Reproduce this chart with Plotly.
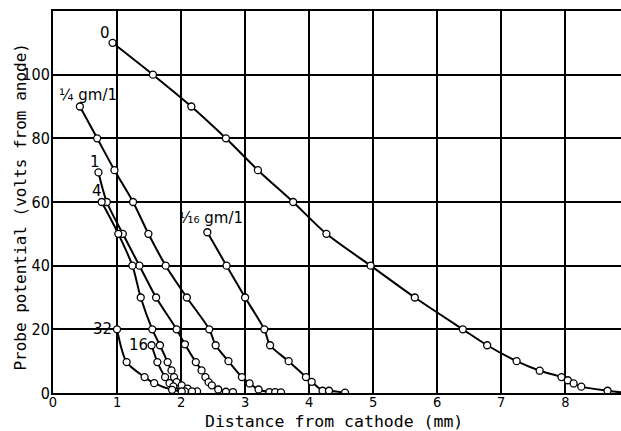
import plotly.graph_objects as go

# ---- data (distance from cathode in mm, probe potential in volts from anode) ----
c0_x = [0.93, 1.56, 2.16, 2.70, 3.20, 3.75, 4.27, 4.96, 5.65, 6.40, 6.78, 7.24, 7.60, 7.94, 8.04, 8.13, 8.25, 8.66]
c0_y = [110, 100, 90, 80, 70, 60, 50, 40, 30, 20, 15, 10, 7, 5, 4, 3, 2, 0.7]
c0_tail_x = [8.87]
c0_tail_y = [0.2]

cq_x = [0.42, 0.69, 0.96, 1.25, 1.49, 1.76, 2.09, 2.44, 2.54, 2.74, 2.95, 3.07, 3.21, 3.38, 3.47, 3.56]
cq_y = [90, 80, 70, 60, 50, 40, 30, 20, 15, 10, 5, 3, 1.1, 0.3, 0.3, 0.2]

c16th_x = [2.41, 2.71, 3.00, 3.30, 3.39, 3.68, 3.95, 4.04, 4.21, 4.31, 4.56]
c16th_y = [50.5, 40, 30, 20, 15, 10, 5, 3.5, 0.7, 0.7, 0.1]

c1_x = [0.71, 0.84, 1.09, 1.35, 1.61, 1.93, 2.06, 2.23, 2.32, 2.38, 2.43, 2.48, 2.58, 2.70, 2.81]
c1_y = [69.3, 60, 50, 40, 30, 20, 15.3, 9.7, 7.1, 5, 3.4, 2.4, 1.1, 0.4, 0.3]

c4_x = [0.76, 1.02, 1.24, 1.37, 1.55, 1.67, 1.79, 1.85, 1.89, 1.93, 2.01, 2.10, 2.25]
c4_y = [60, 50, 40, 30, 20, 15, 9.7, 7.1, 5, 3.4, 2.4, 1.4, 0.5]

c16_x = [1.54, 1.63, 1.75, 1.82, 1.88, 2.06, 2.17]
c16_y = [15, 9.7, 5, 3.1, 2.1, 0.5, 0.5]

c32_x = [1.00, 1.15, 1.43, 1.58, 1.86, 2.01]
c32_y = [20, 9.7, 5, 3.1, 1.0, 0.5]

x_ticks = [0, 1, 2, 3, 4, 5, 6, 7, 8]
y_ticks = [0, 20, 40, 60, 80, 100]

labels = ["0", "¼ gm/1", "1", "4", "¹⁄₁₆ gm/1", "32", "16"]
label_x = [0.81, 0.55, 0.65, 0.68, 2.47, 0.95, 1.51]
label_y = [113, 93.5, 72.5, 63.5, 55, 20, 15]
label_anchor = ["center", "center", "center", "center", "center", "right", "right"]

x_title = "Distance from cathode (mm)"
y_title = "Probe potential (volts from anode)"

SANS = "DejaVu Sans, sans-serif"
COND = "Liberation Sans Narrow, DejaVu Sans Condensed, DejaVu Sans, sans-serif"
MONO = "DejaVu Sans Mono, Liberation Mono, monospace"

fig = go.Figure()

def add_curve(xs, ys, tail_x=None, tail_y=None):
    lx = list(xs) + (list(tail_x) if tail_x else [])
    ly = list(ys) + (list(tail_y) if tail_y else [])
    fig.add_trace(go.Scatter(x=lx, y=ly, mode="lines",
                             line=dict(color="black", width=2, shape="spline", smoothing=0.8),
                             hoverinfo="skip", showlegend=False))
    fig.add_trace(go.Scatter(x=xs, y=ys, mode="markers",
                             marker=dict(symbol="circle", size=7, color="white",
                                         line=dict(color="black", width=1.3)),
                             showlegend=False))

add_curve(c0_x, c0_y, c0_tail_x, c0_tail_y)
add_curve(cq_x, cq_y)
add_curve(c16th_x, c16th_y)
add_curve(c1_x, c1_y)
add_curve(c4_x, c4_y)
add_curve(c16_x, c16_y)
add_curve(c32_x, c32_y)

for t, x, y, a in zip(labels, label_x, label_y, label_anchor):
    fig.add_annotation(x=x, y=y, text=t, showarrow=False, xanchor=a, yanchor="middle",
                       font=dict(family=SANS, size=15, color="black"))

# axis titles
fig.add_annotation(xref="paper", yref="paper", x=0.495, y=-0.075, text=x_title,
                   showarrow=False, xanchor="center", yanchor="middle",
                   font=dict(family=MONO, size=16.5, color="black"))
fig.add_annotation(xref="paper", yref="paper", x=-0.057, y=0.487, text=y_title,
                   showarrow=False, xanchor="center", yanchor="middle", textangle=-90,
                   font=dict(family=MONO, size=16, color="black"))

fig.update_layout(
    width=621, height=431,
    margin=dict(l=53, r=0, t=11, b=38, autoexpand=False),
    paper_bgcolor="white", plot_bgcolor="white",
    font=dict(family=SANS, color="black"),
    xaxis=dict(range=[0, 8.87], tickvals=x_ticks, ticktext=[str(v) for v in x_ticks],
               showgrid=True, gridcolor="black", gridwidth=1.5, automargin=False,
               showline=True, linecolor="black", linewidth=2, mirror=True,
               zeroline=False, ticks="", tickfont=dict(family=COND, size=14.5),
               ticklabelstandoff=-5),
    yaxis=dict(range=[0, 120], tickvals=y_ticks + [120],
               ticktext=[str(v) for v in y_ticks] + [""],
               showgrid=True, gridcolor="black", gridwidth=1.5, automargin=False,
               showline=True, linecolor="black", linewidth=2, mirror=False,
               zeroline=False, ticks="", tickfont=dict(family=COND, size=16),
               ticklabelstandoff=-2),
)

fig.write_html("out.html", config={"displayModeBar": False},
               post_script="document.body.style.margin='0';document.body.style.overflow='hidden';")
